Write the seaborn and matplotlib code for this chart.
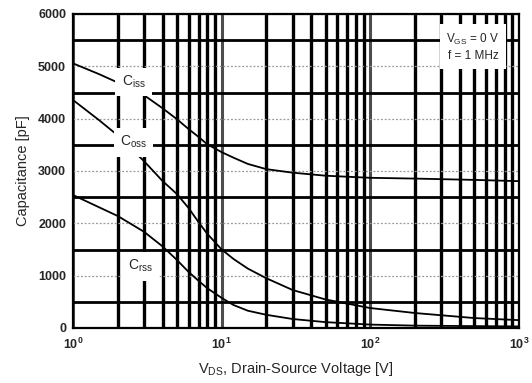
import numpy as np
import pandas as pd
import matplotlib
matplotlib.use("Agg")
import matplotlib.pyplot as plt
import seaborn as sns
from matplotlib.ticker import FixedLocator, LogLocator, NullFormatter

# Data (V_DS in volts, capacitance in pF)
vds = [1, 1.5, 2, 3, 4, 5, 6, 7, 8, 10, 12, 15, 20, 30, 50, 100, 200, 500, 1000]
ciss = [5057, 4850, 4690, 4450, 4200, 3990, 3800, 3650, 3510, 3360, 3255, 3135, 3035, 2968, 2910, 2870, 2855, 2830, 2806]
coss = [4357, 3970, 3680, 3190, 2810, 2560, 2290, 2020, 1800, 1500, 1320, 1135, 950, 726, 545, 381, 286, 190, 150]
crss = [2541, 2306, 2140, 1840, 1560, 1300, 1070, 900, 760, 575, 440, 330, 252, 172, 112, 65, 45, 36, 30]

series_names = ["Ciss", "Coss", "Crss"]
label_texts = [r"C$_{\mathregular{iss}}$", r"C$_{\mathregular{oss}}$", r"C$_{\mathregular{rss}}$"]
y_ticks = [0, 1000, 2000, 3000, 4000, 5000, 6000]
y_minor = [500, 1500, 2500, 3500, 4500, 5500]

df = pd.DataFrame({
    "vds": vds * 3,
    "cap": ciss + coss + crss,
    "series": sum([[n] * len(vds) for n in series_names], []),
})

sns.set_style("white")
plt.rcParams["font.family"] = ["Liberation Sans", "DejaVu Sans"]
plt.rcParams["mathtext.fontset"] = "custom"
plt.rcParams["mathtext.rm"] = "Liberation Sans"
plt.rcParams["mathtext.default"] = "regular"

fig = plt.figure(figsize=(5.32, 3.83), dpi=100)
ax = fig.add_axes([73 / 532, 1 - 328 / 383, (519 - 73) / 532, (328 - 14) / 383])

sns.lineplot(data=df, x="vds", y="cap", units="series", estimator=None,
             color="black", lw=1.3, ax=ax, zorder=3, sort=False)

ax.set_xscale("log")
ax.set_xlim(1, 1000)
ax.set_ylim(0, 6000)

ax.yaxis.set_major_locator(FixedLocator(y_ticks))
ax.yaxis.set_minor_locator(FixedLocator(y_minor))
ax.xaxis.set_major_locator(LogLocator(base=10, numticks=10))
ax.xaxis.set_minor_locator(LogLocator(base=10, subs=np.arange(2, 10), numticks=20))
ax.xaxis.set_minor_formatter(NullFormatter())

ax.set_axisbelow(True)
ax.xaxis.grid(True, which="minor", color="black", lw=2.4)
ax.xaxis.grid(True, which="major", color="0.3", lw=2.2)
ax.yaxis.grid(True, which="minor", color="black", lw=2.0)
ax.yaxis.grid(True, which="major", color="0.6", ls=(0, (1.5, 1.5)), lw=0.9)

ax.tick_params(axis="both", which="both", length=0)
ax.tick_params(axis="y", which="major", length=3, width=1, color="0.5", pad=2, direction="out")
ax.tick_params(axis="x", which="major", pad=6)
for lab in ax.get_yticklabels() + ax.get_xticklabels():
    lab.set_fontsize(9)
    lab.set_fontweight("bold")

for s in ax.spines.values():
    s.set_visible(True)
    s.set_color("black")
    s.set_linewidth(1.6)

ax.set_xlabel(r"V$_{\mathregular{DS}}$, Drain-Source Voltage [V]", fontsize=10.5, labelpad=6)
ax.set_ylabel("Capacitance [pF]", fontsize=10.5, labelpad=6)

# Curve labels with white boxes covering the grid
label_pos = [(2.55, 4700), (2.55, 3550), (2.85, 1180)]
for (lx, ly), t in zip(label_pos, label_texts):
    ax.text(lx, ly, t, fontsize=10, ha="center", va="center", zorder=6,
            bbox=dict(boxstyle="square,pad=0.45", fc="white", ec="none"))

ax.text(0.897, 0.895, "V$_{\\mathregular{GS}}$ = 0 V\nf = 1 MHz", transform=ax.transAxes,
        fontsize=8.5, ha="center", va="center", linespacing=1.4, zorder=6,
        bbox=dict(boxstyle="square,pad=0.55", fc="white", ec="none"))

fig.savefig("out.png", dpi=100)
